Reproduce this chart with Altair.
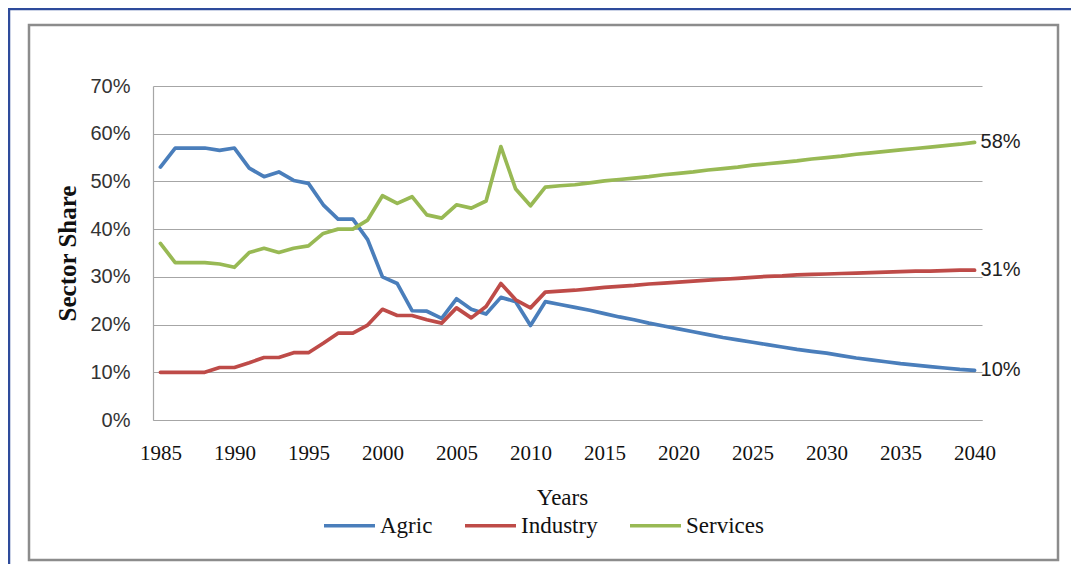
import altair as alt
import pandas as pd

years = list(range(1985, 2041))

agric = [53.0, 57.0, 57.0, 57.0, 56.5, 57.0, 52.8, 51.0, 52.0, 50.2,
         49.6, 45.1, 42.1, 42.1, 37.8, 30.0, 28.6, 22.9, 22.8, 21.3,
         25.4, 23.2, 22.2, 25.7, 24.8, 19.8,
         24.8, 24.2, 23.6, 23.0, 22.3, 21.6, 21.0, 20.3, 19.7, 19.1,
         18.5, 17.9, 17.3, 16.8, 16.3, 15.8, 15.3, 14.8, 14.4, 14.0,
         13.5, 13.0, 12.6, 12.2, 11.8, 11.5, 11.2, 10.9, 10.6, 10.4]

industry = [10.0, 10.0, 10.0, 10.0, 11.0, 11.0, 12.0, 13.1, 13.1, 14.1,
            14.1, 16.1, 18.2, 18.2, 19.9, 23.2, 21.9, 21.9, 21.0, 20.3,
            23.5, 21.4, 23.8, 28.6, 25.2, 23.5,
            26.8, 27.0, 27.2, 27.5, 27.8, 28.0, 28.2, 28.5, 28.7, 28.9,
            29.1, 29.3, 29.5, 29.7, 29.9, 30.1, 30.2, 30.4, 30.5, 30.6,
            30.7, 30.8, 30.9, 31.0, 31.1, 31.2, 31.2, 31.3, 31.4, 31.4]

services = [37.0, 33.0, 33.0, 33.0, 32.7, 32.0, 35.1, 36.0, 35.1, 36.0,
            36.5, 39.1, 40.0, 40.0, 41.9, 47.0, 45.4, 46.8, 43.0, 42.3,
            45.1, 44.4, 45.9, 57.3, 48.4, 44.9,
            48.8, 49.1, 49.3, 49.7, 50.1, 50.4, 50.7, 51.0, 51.4, 51.7,
            52.0, 52.4, 52.7, 53.0, 53.4, 53.7, 54.0, 54.3, 54.7, 55.0,
            55.3, 55.7, 56.0, 56.3, 56.6, 56.9, 57.2, 57.5, 57.8, 58.2]

sectors = ["Agric", "Industry", "Services"]
colors = ["#4A7EBB", "#BE4B48", "#98B954"]
end_labels = ["10%", "31%", "58%"]
x_ticks = list(range(1985, 2041, 5))
y_ticks = [0, 10, 20, 30, 40, 50, 60, 70]

rows = []
for name, vals in zip(sectors, [agric, industry, services]):
    for yr, v in zip(years, vals):
        rows.append({"Year": yr, "Share": v, "Sector": name})
df = pd.DataFrame(rows)

end_df = pd.DataFrame({
    "Year": [2040, 2040, 2040],
    "Share": [agric[-1], industry[-1], services[-1]],
    "Label": end_labels,
})

one = pd.DataFrame({"k": [0]})

blue_frame = alt.Chart(one).mark_rect(
    fillOpacity=0, stroke="#2E4B9B", strokeWidth=2.5
).encode(x=alt.value(-144), x2=alt.value(1000), y=alt.value(-77), y2=alt.value(700))

gray_box = alt.Chart(one).mark_rect(
    fillOpacity=0, stroke="#8C8C8C", strokeWidth=2.5
).encode(x=alt.value(-124), x2=alt.value(905), y=alt.value(-61), y2=alt.value(474))

x_enc = alt.X("Year:Q",
              scale=alt.Scale(domain=[1984.5, 2040.5], nice=False, zero=False),
              axis=alt.Axis(values=x_ticks, format="d", grid=False, ticks=False,
                            domainColor="#A6A6A6", domainWidth=1.2,
                            labelFont="Liberation Serif", labelFontSize=21,
                            labelColor="#111111", labelPadding=22, labelOverlap=False,
                            labelFlush=False,
                            title="Years", titleFont="Liberation Serif",
                            titleFontSize=23, titleFontWeight="normal",
                            titleColor="#111111", titleX=409, titleY=77,
                            titleBaseline="middle", titleAlign="center"))
y_enc = alt.Y("Share:Q",
              scale=alt.Scale(domain=[0, 70], nice=False),
              axis=alt.Axis(values=y_ticks, labelExpr="datum.value + '%'",
                            grid=True, gridColor="#A6A6A6", gridWidth=1.2,
                            ticks=False, domainColor="#A6A6A6", domainWidth=1.2,
                            labelFont="Liberation Sans", labelFontSize=20,
                            labelColor="#333333", labelPadding=23,
                            title="Sector Share", titleFont="Liberation Serif",
                            titleFontSize=25, titleFontWeight="bold",
                            titleColor="#111111", titleAngle=270,
                            titleX=-86, titleY=167, titleAlign="center",
                            titleBaseline="middle"))

lines = alt.Chart(df).mark_line(strokeWidth=3.7, strokeJoin="round", strokeCap="round").encode(
    x=x_enc,
    y=y_enc,
    color=alt.Color("Sector:N",
                    scale=alt.Scale(domain=sectors, range=colors),
                    sort=sectors,
                    legend=alt.Legend(orient="none", legendX=169, legendY=412,
                                      direction="horizontal", title=None,
                                      symbolType="stroke", symbolSize=2600,
                                      symbolStrokeWidth=3.7, labelOffset=3,
                                      labelFont="Liberation Serif", labelFontSize=23,
                                      labelColor="#111111", columnPadding=24)),
    order=alt.Order("Year:Q"),
)

labels = alt.Chart(end_df).mark_text(
    align="left", baseline="middle", dx=6, font="Liberation Sans",
    fontSize=20, color="#222222"
).encode(x="Year:Q", y="Share:Q", text="Label:N")

chart = alt.layer(blue_frame, gray_box, lines, labels).properties(
    width=829, height=334,
    autosize=alt.AutoSizeParams(type="none"),
    padding={"left": 145, "top": 78, "right": 89, "bottom": 144},
).configure_view(stroke=None)

chart.save("out.html", embed_options={"renderer": "svg", "actions": False})
